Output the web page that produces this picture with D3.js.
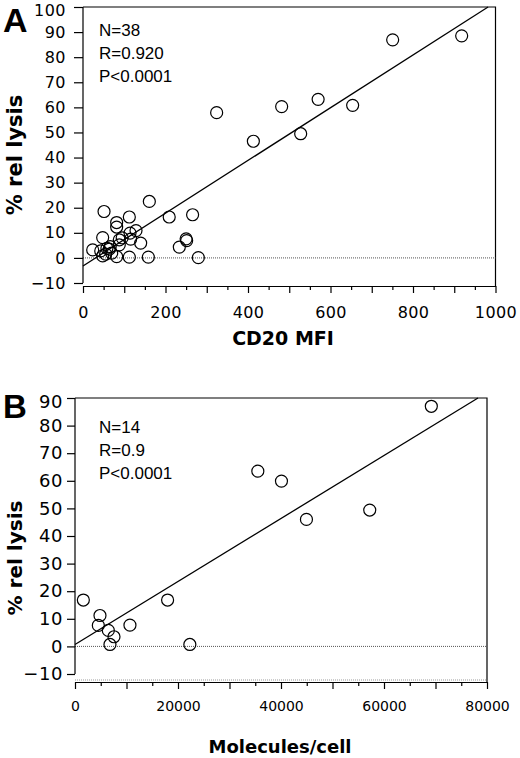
<!DOCTYPE html>
<html>
<head>
<meta charset="utf-8">
<script src="https://cdn.jsdelivr.net/npm/d3@7"></script>
<style>
  body { margin: 0; background: #fff; }
  .tick line, .domain { stroke: #000; stroke-width: 1.2; }
</style>
</head>
<body>
<div id="chart"></div>
<script>
// panel A data: CD20 MFI vs % rel lysis
var mfiA   = [23.5, 51, 47.7, 43, 47.7, 63.8, 69.5, 81.6, 81.6, 81.6, 88, 88, 112.3, 114, 115.5, 128.5,
              112.3, 139.8, 158.4, 160.8, 209, 265.7, 233.5, 251.3, 250, 279.6, 324, 413, 481.6, 527.7,
              570, 653.7, 750.7, 918, 55, 58, 66, 95];
var lysisA = [3.2, 18.5, 8.1, 2.8, 0.8, 3.5, 1.9, 0.5, 14.1, 12.3, 7.2, 5.2, 16.3, 9.9, 7.5, 10.9,
              0.3, 5.9, 0.3, 22.5, 16.3, 17.2, 4.3, 6.9, 7.6, 0.1, 57.9, 46.5, 60.3, 49.5,
              63.2, 60.8, 86.9, 88.5, 1.5, 3.8, 4.5, 8];
var fitA   = [[0, -3.2], [982, 100]];
var statsA = ["N=38", "R=0.920", "P<0.0001"];

// panel B data: molecules/cell vs % rel lysis
var molB   = [1620, 4850, 4530, 6470, 7570, 6790, 10670, 17980, 22300, 35500, 40090, 44940, 57230, 69190];
var lysisB = [16.8, 11.2, 7.6, 5.8, 3.5, 0.7, 7.7, 16.8, 0.7, 63.5, 59.9, 46, 49.4, 87];
var fitB   = [[0, 0.7], [78250, 90]];
var statsB = ["N=14", "R=0.9", "P<0.0001"];

var yTicksA = d3.range(-10, 101, 10);
var yTicksB = d3.range(-10, 91, 10);

var svg = d3.select("#chart")
  .append("svg")
    .attr("width", 520)
    .attr("height", 758);

function panel(o) {
  var x = d3.scaleLinear().domain(o.xDomain).range([o.left, o.right]);
  var y = d3.scaleLinear().domain(o.yDomain).range([o.bottom, o.top]);
  var g = svg.append("g");

  // frame: top and right edges
  g.append("path")
    .attr("d", "M" + o.left + "," + o.top + "H" + o.right + "V" + o.axisY)
    .attr("fill", "none")
    .attr("stroke", "#000")
    .attr("stroke-width", 1.2);

  if (o.frameBottom) {
    g.append("line")
      .attr("x1", o.left).attr("x2", o.right)
      .attr("y1", o.frameBottom).attr("y2", o.frameBottom)
      .attr("stroke", "#999")
      .attr("stroke-dasharray", "1,1");
  }

  // zero line, dotted
  g.append("line")
    .attr("x1", x(o.xDomain[0])).attr("x2", x(o.xDomain[1]))
    .attr("y1", y(0)).attr("y2", y(0))
    .attr("stroke", "#555")
    .attr("stroke-width", 1)
    .attr("stroke-dasharray", "1,1");

  // minor x ticks
  g.append("g")
    .attr("transform", "translate(0," + o.axisY + ")")
    .call(d3.axisBottom(x).tickValues(o.xMinor).tickSize(4).tickSizeOuter(0).tickFormat(""))
    .select(".domain").remove();

  // major x axis
  var xa = g.append("g")
    .attr("transform", "translate(0," + o.axisY + ")")
    .call(d3.axisBottom(x).tickValues(o.xMajor).tickSize(7).tickSizeOuter(0)
      .tickPadding(o.xPad)
      .tickFormat(function(d) { return d % o.labelEvery === 0 ? d : ""; }));
  xa.selectAll("text")
    .style("font-family", "DejaVu Sans")
    .style("font-size", o.xFont + "px")
    .style("letter-spacing", o.xSpace + "px")
    .attr("fill", "#000");

  // y axis
  var ya = g.append("g")
    .attr("transform", "translate(" + o.left + ",0)")
    .call(d3.axisLeft(y).tickValues(o.yTicks).tickSize(o.yTick).tickSizeOuter(0).tickPadding(o.yPad));
  ya.select(".domain").attr("d", "M0," + y(o.yTicks[0]) + "V" + o.top);
  ya.selectAll("text")
    .style("font-family", "DejaVu Sans")
    .style("font-size", o.yFont + "px")
    .style("letter-spacing", o.ySpace + "px")
    .attr("fill", "#000")
    .attr("dy", (d, i) => i === o.yTicks.length - 1 ? "0.55em" : "0.32em");

  // regression line
  g.append("path")
    .datum(o.fit)
    .attr("fill", "none")
    .attr("stroke", "#000")
    .attr("stroke-width", 1.3)
    .attr("d", d3.line().x(d => x(d[0])).y(d => y(d[1])));

  // points
  g.selectAll("circle.pt")
    .data(o.xs)
    .join("circle")
    .attr("class", "pt")
    .attr("cx", d => x(d))
    .attr("cy", (d, i) => y(o.ys[i]))
    .attr("r", 6)
    .attr("fill", "none")
    .attr("stroke", "#000")
    .attr("stroke-width", 1.2);

  // stats text
  g.selectAll("text.stat")
    .data(o.stats)
    .join("text")
    .attr("class", "stat")
    .attr("x", 99)
    .attr("y", (d, i) => o.statY + i * 23)
    .style("font-family", "Liberation Sans, Arial")
    .style("font-size", "17px")
    .text(d => d);

  // panel letter
  g.append("text")
    .attr("x", 3)
    .attr("y", o.letterY)
    .style("font-family", "Liberation Sans, Arial")
    .style("font-weight", "bold")
    .style("font-size", o.letterSize + "px")
    .text(o.letter);

  // axis titles
  g.append("text")
    .attr("x", o.xTitleX)
    .attr("y", o.xTitleY)
    .attr("text-anchor", "middle")
    .style("font-family", "DejaVu Sans")
    .style("font-weight", "bold")
    .style("font-size", o.xTitleSize + "px")
    .text(o.xTitle);

  g.append("text")
    .attr("transform", "translate(22," + o.yTitleY + ") rotate(-90)")
    .attr("text-anchor", "middle")
    .style("font-family", "DejaVu Sans")
    .style("font-weight", "bold")
    .style("font-size", o.yTitleSize + "px")
    .text("% rel lysis");
}

panel({
  xs: mfiA, ys: lysisA, fit: fitA, stats: statsA,
  xDomain: [0, 1000], yDomain: [-10, 100],
  left: 83, right: 495.5, top: 7, bottom: 283, axisY: 286,
  xMajor: d3.range(0, 1001, 100), xMinor: d3.range(50, 1000, 100), labelEvery: 200,
  xPad: 14, xFont: 16, xSpace: 0.4,
  yTicks: yTicksA, yTick: 9, yPad: 8, yFont: 16, ySpace: 0.5,
  statY: 36, letter: "A", letterY: 32, letterSize: 34,
  xTitle: "CD20 MFI", xTitleX: 283, xTitleY: 345, xTitleSize: 19,
  yTitleY: 155, yTitleSize: 21
});

panel({
  xs: molB, ys: lysisB, fit: fitB, stats: statsB,
  xDomain: [0, 80000], yDomain: [-10, 90],
  left: 75, right: 487, top: 398, bottom: 674, axisY: 682, frameBottom: 680,
  xMajor: d3.range(0, 80001, 10000), xMinor: d3.range(5000, 80000, 10000), labelEvery: 20000,
  xPad: 12, xFont: 14, xSpace: 0,
  yTicks: yTicksB, yTick: 8, yPad: 4, yFont: 18, ySpace: 0.6,
  statY: 433, letter: "B", letterY: 418, letterSize: 33,
  xTitle: "Molecules/cell", xTitleX: 280, xTitleY: 753, xTitleSize: 18,
  yTitleY: 558, yTitleSize: 20
});
</script>
</body>
</html>
